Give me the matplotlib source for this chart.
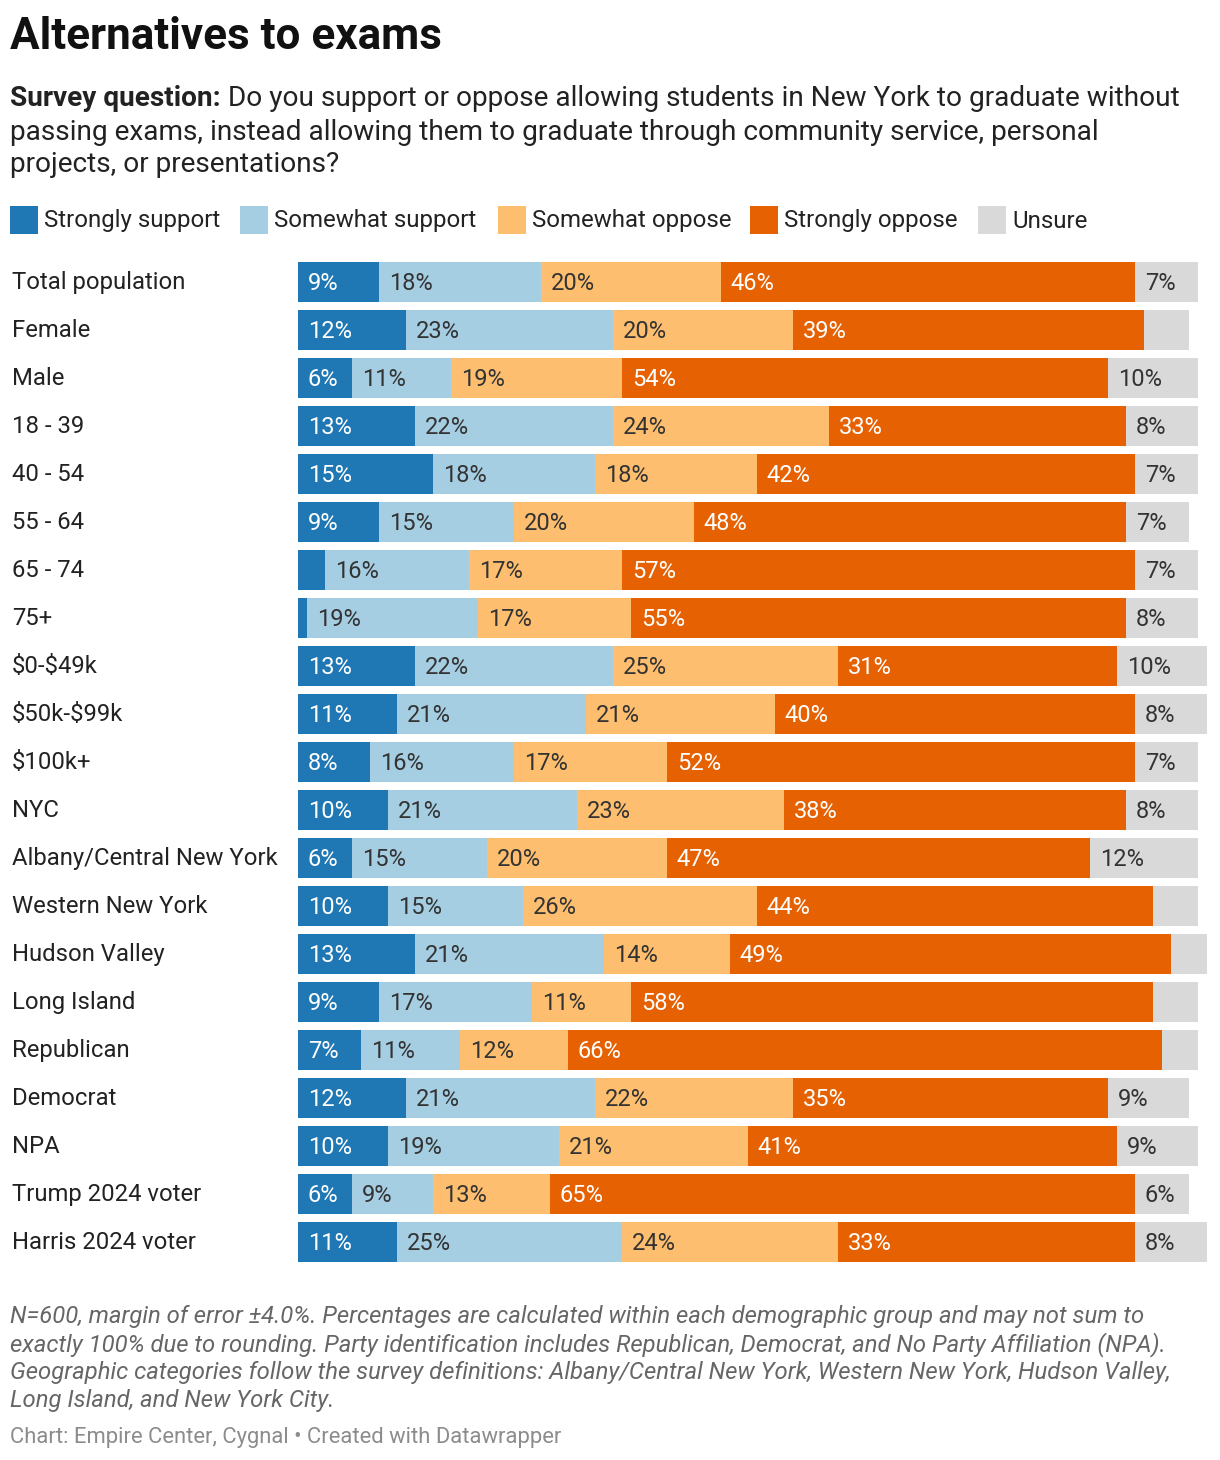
import matplotlib
matplotlib.use("Agg")
import matplotlib.pyplot as plt
from matplotlib import transforms
from matplotlib.patches import Rectangle

plt.rcParams['font.family'] = ['Roboto', 'DejaVu Sans']
plt.rcParams['text.parse_math'] = False

categories = ["Total population", "Female", "Male", "18 - 39", "40 - 54", "55 - 64",
              "65 - 74", "75+", "$0-$49k", "$50k-$99k", "$100k+", "NYC",
              "Albany/Central New York", "Western New York", "Hudson Valley",
              "Long Island", "Republican", "Democrat", "NPA", "Trump 2024 voter",
              "Harris 2024 voter"]
series = ["Strongly support", "Somewhat support", "Somewhat oppose", "Strongly oppose", "Unsure"]
strongly_support = [9, 12, 6, 13, 15, 9, 3, 1, 13, 11, 8, 10, 6, 10, 13, 9, 7, 12, 10, 6, 11]
somewhat_support = [18, 23, 11, 22, 18, 15, 16, 19, 22, 21, 16, 21, 15, 15, 21, 17, 11, 21, 19, 9, 25]
somewhat_oppose = [20, 20, 19, 24, 18, 20, 17, 17, 25, 21, 17, 23, 20, 26, 14, 11, 12, 22, 21, 13, 24]
strongly_oppose = [46, 39, 54, 33, 42, 48, 57, 55, 31, 40, 52, 38, 47, 44, 49, 58, 66, 35, 41, 65, 33]
unsure = [7, 5, 10, 8, 7, 7, 7, 8, 10, 8, 7, 8, 12, 5, 4, 5, 4, 9, 9, 6, 8]

colors = ["#1f77b4", "#a6cee3", "#fdbf6f", "#e66101", "#d9d9d9"]
text_colors = ["white", "#333333", "#333333", "white", "#333333"]

W, H = 1220, 1460
fig = plt.figure(figsize=(W / 100, H / 100), dpi=100)
fig.patch.set_facecolor("white")

def fx(x):
    return x / W

def fy(y):
    return 1 - y / H

n = len(categories)
top, pitch = 258, 48
ax = fig.add_axes([fx(298), fy(top + n * pitch), 900 / W, n * pitch / H])
ax.set_xlim(0, 100)
ax.set_ylim(n - 0.5, -0.5)
ax.axis("off")

data = [strongly_support, somewhat_support, somewhat_oppose, strongly_oppose, unsure]
for i in range(n):
    left = 0
    for s, vals in enumerate(data):
        v = vals[i]
        ax.barh(i, v, left=left, height=40 / 48, color=colors[s], clip_on=False, linewidth=0)
        if v >= 6:
            ax.text(left + 1.1, i + 0.04, f"{v}%", va="center", ha="left", fontsize=17,
                    color=text_colors[s], clip_on=False)
        left += v

trans = transforms.blended_transform_factory(fig.transFigure, ax.transData)
for i, c in enumerate(categories):
    ax.text(fx(12), i + 0.01, c, transform=trans, va="center", ha="left", fontsize=17.2, color="#222222")

# Title
fig.text(fx(10), fy(37), "Alternatives to exams", fontsize=31.7, fontweight="bold", va="center", ha="left", color="#111111")

# Subtitle
fig.canvas.draw()
renderer = fig.canvas.get_renderer()
sub_fs = 20.2
b = fig.text(fx(10), fy(98), "Survey question:", fontsize=sub_fs, fontweight="bold", va="center", ha="left", color="#222222")
bb = b.get_window_extent(renderer=renderer)
fig.text(bb.x1 / W + fx(7), fy(98), "Do you support or oppose allowing students in New York to graduate without",
         fontsize=sub_fs, va="center", ha="left", color="#222222")
fig.text(fx(10), fy(132), "passing exams, instead allowing them to graduate through community service, personal",
         fontsize=sub_fs, va="center", ha="left", color="#222222")
fig.text(fx(10), fy(165), "projects, or presentations?", fontsize=sub_fs, va="center", ha="left", color="#222222")

# Legend
leg_x = [10, 240, 498, 750, 978]
for s, name in enumerate(series):
    fig.patches.append(Rectangle((fx(leg_x[s]), fy(234)), 28 / W, 28 / H, transform=fig.transFigure,
                                 facecolor=colors[s], edgecolor="none"))
    fig.text(fx(leg_x[s] + 34), fy(221), name, fontsize=17.3, va="center", ha="left", color="#222222")

# Footnote
notes = ["N=600, margin of error \u00b14.0%. Percentages are calculated within each demographic group and may not sum to",
         "exactly 100% due to rounding. Party identification includes Republican, Democrat, and No Party Affiliation (NPA).",
         "Geographic categories follow the survey definitions: Albany/Central New York, Western New York, Hudson Valley,",
         "Long Island, and New York City."]
for k, line in enumerate(notes):
    fig.text(fx(10), fy(1317 + 28 * k), line, fontsize=17.2, style="italic", va="center", ha="left", color="#666666")

fig.text(fx(10), fy(1438), "Chart: Empire Center, Cygnal \u2022 Created with Datawrapper", fontsize=15.8,
         va="center", ha="left", color="#8c8c8c")

fig.savefig("out.png", dpi=100, facecolor="white")
